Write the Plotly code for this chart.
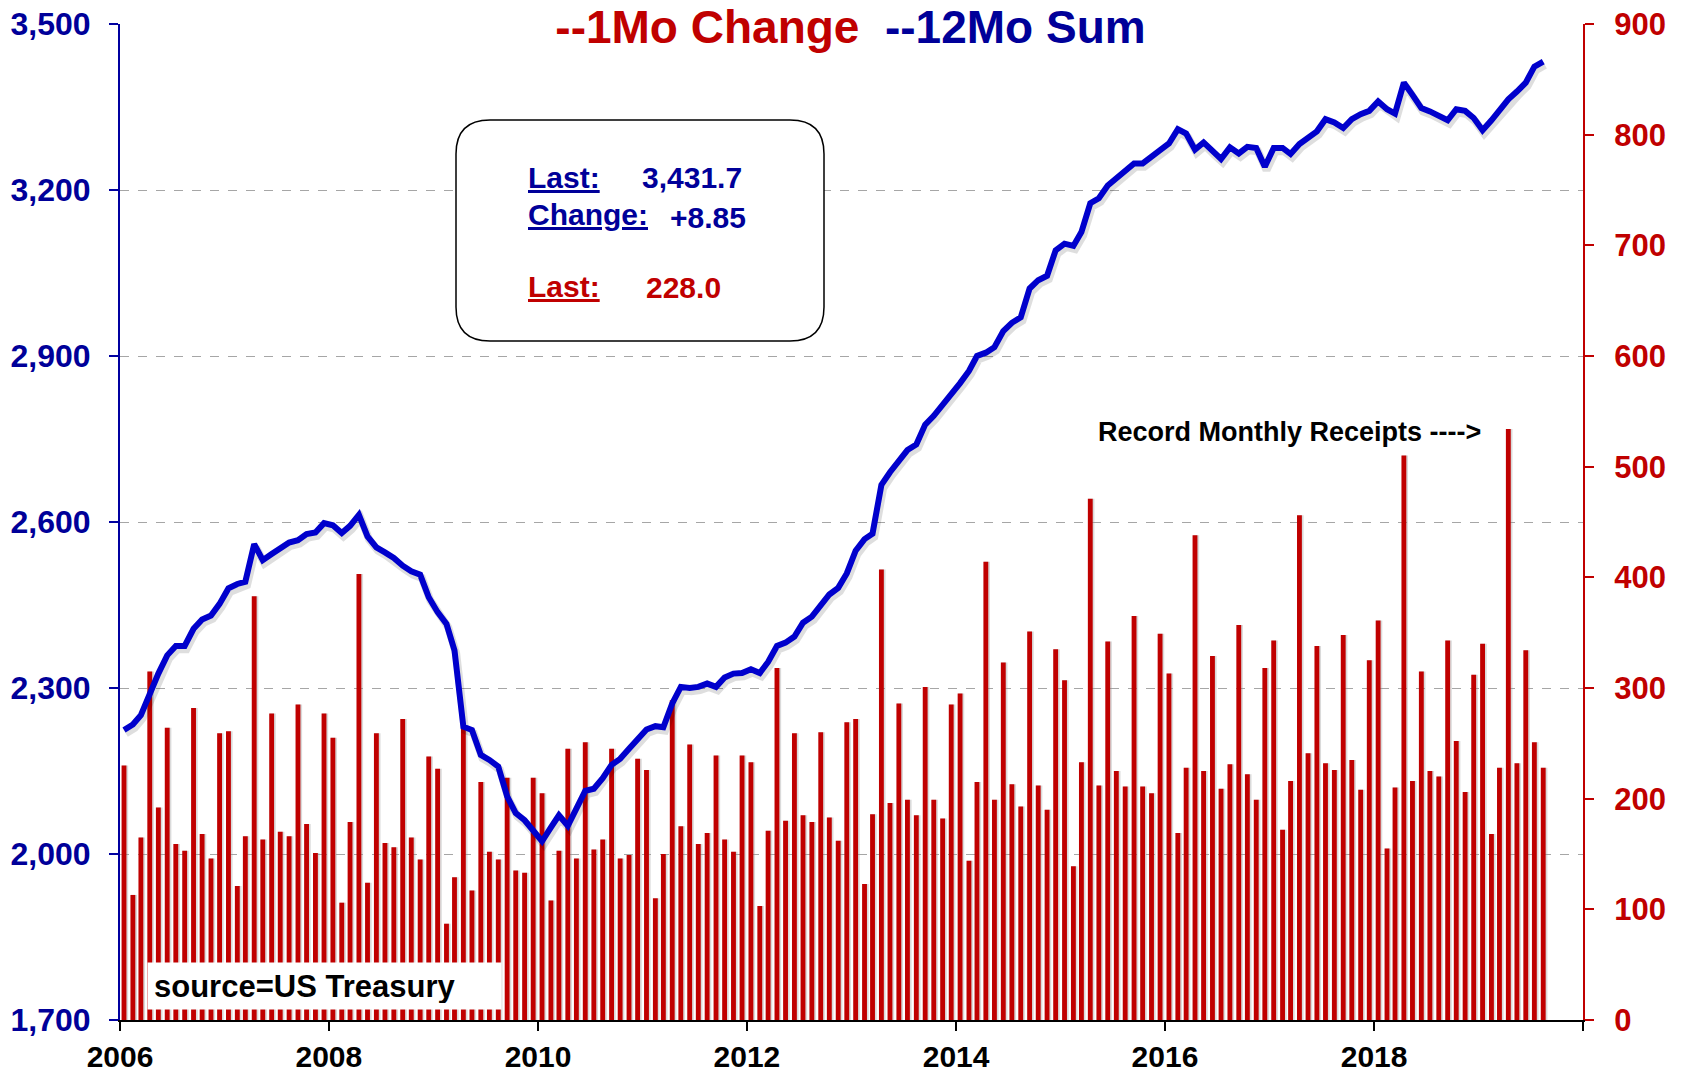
import pandas as pd
import plotly.graph_objects as go

# ---------------- data ----------------
start_month = "2006-01-01"

# monthly federal receipts ($bn), right axis (red bars)
receipts_1mo = [
    230, 113, 165, 315, 192, 264, 159, 153, 282, 168, 146, 259,   # 2006
    261, 121, 166, 383, 163, 277, 170, 166, 285, 177, 151, 277,   # 2007
    255, 106, 179, 403, 124, 259, 160, 156, 272, 165, 145, 238,   # 2008
    227, 87, 129, 263, 117, 215, 152, 145, 219, 135, 133, 219,    # 2009
    205, 108, 153, 245, 146, 251, 154, 163, 245, 146, 149, 236,   # 2010
    226, 110, 150, 289, 175, 249, 159, 169, 239, 163, 152, 239,   # 2011
    233, 103, 171, 318, 180, 259, 185, 179, 260, 183, 162, 269,   # 2012
    272, 123, 186, 407, 196, 286, 199, 185, 301, 199, 182, 285,   # 2013
    295, 144, 215, 414, 199, 323, 213, 193, 351, 212, 190, 335,   # 2014
    307, 139, 233, 471, 212, 342, 225, 211, 365, 211, 205, 349,   # 2015
    313, 169, 228, 438, 225, 329, 209, 231, 357, 222, 199, 318,   # 2016
    343, 172, 216, 456, 241, 338, 232, 226, 348, 235, 208, 325,   # 2017
    361, 155, 210, 510, 216, 315, 225, 220, 343, 252, 206, 312,   # 2018
    340, 168, 228, 534, 232, 334, 251, 228,                       # 2019
]

# 12-month sum ($bn), left axis (blue line)
receipts_12mo = [
    2224, 2234, 2251, 2290, 2326, 2359, 2376, 2376, 2407, 2424, 2431, 2452,
    2480, 2488, 2492, 2560, 2531, 2542, 2551, 2563, 2567, 2578, 2581, 2598,
    2594, 2580, 2593, 2613, 2574, 2554, 2545, 2535, 2521, 2511, 2505, 2464,
    2437, 2416, 2368, 2230, 2224, 2179, 2170, 2158, 2104, 2074, 2061, 2041,
    2023, 2048, 2070, 2051, 2085, 2114, 2118, 2137, 2161, 2172, 2190, 2206,
    2225, 2231, 2229, 2272, 2302, 2300, 2302, 2308, 2302, 2319, 2326, 2327,
    2334, 2327, 2347, 2376, 2382, 2393, 2418, 2429, 2448, 2469, 2481, 2507,
    2548, 2569, 2579, 2667, 2690, 2712, 2730, 2740, 2776, 2792, 2811, 2830,
    2851, 2873, 2900, 2906, 2916, 2945, 2960, 2970, 3022, 3037, 3045, 3091,
    3103, 3099, 3124, 3176, 3185, 3208, 3221, 3234, 3248, 3248, 3259, 3272,
    3284, 3310, 3302, 3273, 3286, 3270, 3256, 3277, 3266, 3278, 3276, 3242,
    3276, 3276, 3265, 3283, 3296, 3306, 3328, 3322, 3312, 3328, 3337, 3343,
    3360, 3346, 3338, 3394, 3372, 3348, 3342, 3334, 3326, 3346, 3343, 3330,
    3308, 3326, 3343, 3364, 3378, 3394, 3423, 3432,
]

tick_years = [2006, 2008, 2010, 2012, 2014, 2016, 2018, 2020]
tick_text = ["2006", "2008", "2010", "2012", "2014", "2016", "2018", ""]

last_12mo_label = "3,431.7"
change_label = "+8.85"
last_1mo_label = "228.0"

# ---------------- styling ----------------
RED = "#C00000"
NAVY = "#000099"
BLUE_LINE = "#0000CC"
FONT = "Liberation Sans, Arial, sans-serif"

W, H = 1683, 1074
ML, MT = 120, 24
PW, PH = 1463, 996
MR, MB = W - ML - PW, H - MT - PH


def px_x(p):
    """page x pixel -> paper coordinate"""
    return (p - ML) / PW


def px_y(p):
    """page y pixel -> paper coordinate"""
    return (MT + PH - p) / PH


months = pd.date_range(start_month, periods=len(receipts_1mo), freq="MS")
x_mid = months + pd.Timedelta(days=14)
DAY_MS = 24 * 3600 * 1000
bar_width_ms = 17 * DAY_MS

fig = go.Figure()
# soft shadow behind the bars
fig.add_trace(go.Bar(
    x=x_mid + pd.Timedelta(days=4), y=receipts_1mo, yaxis="y",
    width=[bar_width_ms + 4 * DAY_MS] * len(receipts_1mo),
    marker=dict(color="rgba(150,150,150,0.35)", line=dict(width=0)),
    showlegend=False, hoverinfo="skip",
))
fig.add_trace(go.Bar(
    x=x_mid, y=receipts_1mo, yaxis="y",
    width=[bar_width_ms] * len(receipts_1mo),
    marker=dict(color=RED, line=dict(width=0)),
    showlegend=False, hoverinfo="skip",
))
# soft shadow under the line
fig.add_trace(go.Scatter(
    x=x_mid + pd.Timedelta(days=6), y=[v - 6 for v in receipts_12mo], yaxis="y2",
    mode="lines", line=dict(color="rgba(0,0,0,0.13)", width=8),
    showlegend=False, hoverinfo="skip",
))
fig.add_trace(go.Scatter(
    x=x_mid, y=receipts_12mo, yaxis="y2", mode="lines",
    line=dict(color=BLUE_LINE, width=6),
    showlegend=False, hoverinfo="skip",
))

tick_font = dict(family=FONT, size=31, weight="bold")

fig.update_layout(
    width=W, height=H,
    margin=dict(l=ML, r=MR, t=MT, b=MB, autoexpand=False),
    paper_bgcolor="white", plot_bgcolor="white",
    showlegend=False,
    barmode="overlay",
    xaxis=dict(
        type="date", automargin=False,
        range=["2006-01-01", "2020-01-01"],
        tickvals=[f"{y}-01-01" for y in tick_years],
        ticktext=tick_text,
        ticks="outside", ticklen=9, tickwidth=2, tickcolor="black",
        showline=True, linecolor="black", linewidth=2,
        showgrid=False, zeroline=False,
        tickfont=dict(tick_font, size=30, color="black"),
        ticklabelstandoff=0,
    ),
    yaxis=dict(
        side="right", automargin=False,
        range=[0, 900], tick0=0, dtick=100,
        showgrid=False, zeroline=False,
        showline=True, linecolor=RED, linewidth=2,
        ticks="outside", ticklen=9, tickwidth=2, tickcolor=RED,
        tickfont=dict(tick_font, color=RED),
        ticklabelstandoff=14,
    ),
    yaxis2=dict(
        side="left", overlaying="y", automargin=False,
        range=[1700, 3500], tick0=1700, dtick=300,
        tickformat=",d",
        showgrid=True, gridcolor="#A6A6A6", gridwidth=1, griddash="dash",
        zeroline=False,
        showline=True, linecolor="#0000A0", linewidth=2,
        ticks="outside", ticklen=9, tickwidth=2, tickcolor="#0000A0",
        tickfont=dict(tick_font, size=32, color=NAVY),
        ticklabelstandoff=12,
    ),
)

# rounded info box (page pixel corners)
bx0, bx1, by0, by1, r = 456, 824, 120, 341, 34
x0, x1 = px_x(bx0), px_x(bx1)
yt, yb = px_y(by0), px_y(by1)
rx, ry = r / PW, r / PH
path = (
    f"M {x0+rx},{yt} L {x1-rx},{yt} Q {x1},{yt} {x1},{yt-ry} "
    f"L {x1},{yb+ry} Q {x1},{yb} {x1-rx},{yb} "
    f"L {x0+rx},{yb} Q {x0},{yb} {x0},{yb+ry} "
    f"L {x0},{yt-ry} Q {x0},{yt} {x0+rx},{yt} Z"
)
fig.add_shape(type="path", path=path, xref="paper", yref="paper",
              fillcolor="white", line=dict(color="black", width=1.5), layer="above")

annotations = []


def add_text(text, px, py, color, size=30, xanchor="left"):
    annotations.append(dict(
        text=text, x=px_x(px), y=px_y(py), xref="paper", yref="paper",
        xanchor=xanchor, yanchor="middle", showarrow=False,
        font=dict(family=FONT, size=size, color=color, weight="bold"),
    ))


add_text("<u>Last:</u>", 526, 177, NAVY)
add_text(last_12mo_label, 640, 177, NAVY)
add_text("<u>Change:</u>", 526, 214, NAVY)
add_text(change_label, 668, 218, NAVY)
add_text("<u>Last:</u>", 526, 287, RED)
add_text(last_1mo_label, 644, 288, RED)

# record annotation
add_text("Record Monthly Receipts ---->", 1289, 432, "black", size=27, xanchor="center")

# title with white background (anchored at its top so it stays inside the page)
annotations.append(dict(
    text=(f"<span style='color:{RED}'>--1Mo Change</span>\u00a0\u00a0"
          f"<span style='color:{NAVY}'>--12Mo Sum</span>"),
    x=px_x(850), y=px_y(0), xref="paper", yref="paper",
    xanchor="center", yanchor="top", showarrow=False,
    font=dict(family=FONT, size=46, weight="bold"),
    bgcolor="white", width=735, borderpad=0,
))

# source box
annotations.append(dict(
    text="source=US Treasury",
    x=px_x(147), y=px_y(986), xref="paper", yref="paper",
    xanchor="left", yanchor="middle", showarrow=False,
    font=dict(family=FONT, size=31, color="black", weight="bold"),
    bgcolor="white", width=341, height=34, borderpad=6, align="left",
))

fig.update_layout(annotations=annotations)

# remove the default page margin so the figure fills the window exactly
fig.write_html(
    "out.html",
    config={"displayModeBar": False},
    post_script="document.body.style.margin='0px';"
                "document.documentElement.style.overflow='hidden';",
)
